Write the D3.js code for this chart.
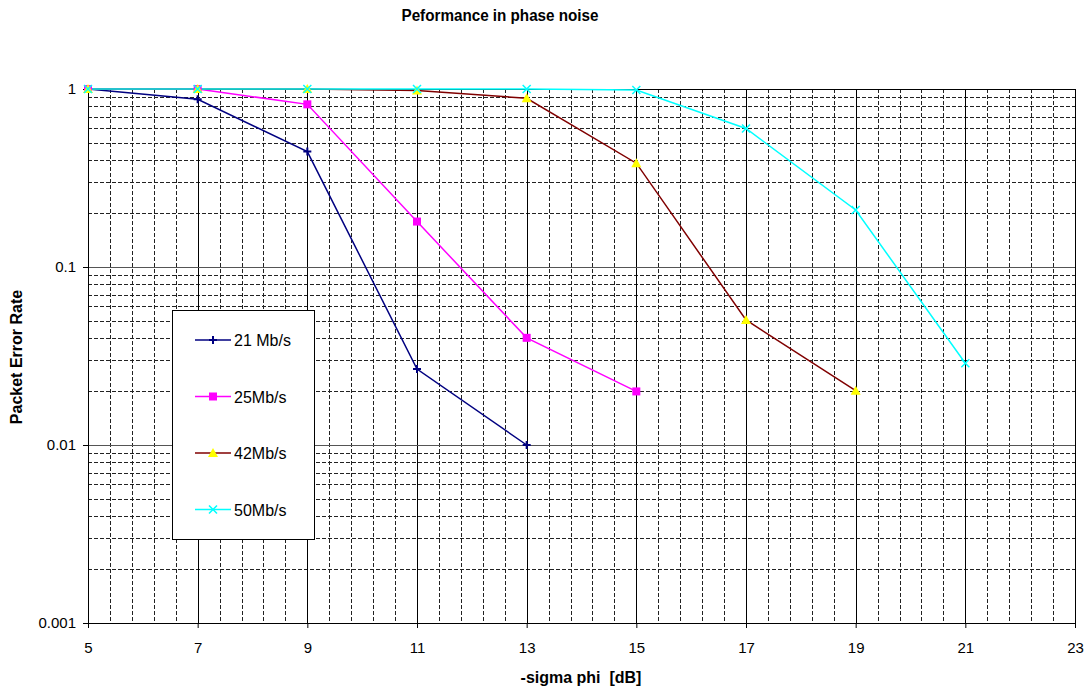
<!DOCTYPE html>
<html>
<head>
<meta charset="utf-8">
<script src="https://cdn.jsdelivr.net/npm/d3@7"></script>
<style>
  body { margin: 0; background: #fff; }
  text { font-family: "Liberation Sans", Arial, sans-serif; }
</style>
</head>
<body>
<div id="chart"></div>
<script>
// data
var xValues = [5, 7, 9, 11, 13, 15, 17, 19, 21];
var per21 = [1, 0.875, 0.445, 0.0267, 0.01];
var per25 = [1, 1, 0.82, 0.18, 0.04, 0.02];
var per42 = [1, 1, 1, 0.98, 0.887, 0.383, 0.0504, 0.0202];
var per50 = [1, 1, 1, 1, 1, 0.987, 0.60, 0.209, 0.0288];
var seriesNames = ["21 Mb/s", "25Mb/s", "42Mb/s", "50Mb/s"];
var xTicks = [5, 7, 9, 11, 13, 15, 17, 19, 21, 23];
var yTicks = [0.001, 0.01, 0.1, 1];
var yTickLabels = ["0.001", "0.01", "0.1", "1"];

var w = 1086, h = 692;
var plotLeft = 88, plotRight = 1075, plotTop = 89, plotBottom = 623;

var svg = d3.select("#chart").append("svg")
    .attr("width", w)
    .attr("height", h);

var x = d3.scaleLinear().domain([5, 23]).range([plotLeft, plotRight]);
var y = d3.scaleLog().domain([0.001, 1]).range([plotBottom, plotTop]);

// minor gridlines
var xMinor = [];
for (var v = 5; v < 23; v += 2) {
    for (var k = 1; k < 5; k++) xMinor.push(v + k * 0.4);
}
var yMinor = [];
[0.001, 0.01, 0.1].forEach(function (d) {
    for (var k = 2; k < 10; k++) yMinor.push(d * k);
});

var grid = svg.append("g").attr("shape-rendering", "crispEdges");

grid.selectAll(".vminor").data(xMinor).enter().append("line")
    .attr("x1", function (d) { return Math.round(x(d)) + 0.5; })
    .attr("x2", function (d) { return Math.round(x(d)) + 0.5; })
    .attr("y1", plotTop).attr("y2", plotBottom)
    .attr("stroke", "#222").attr("stroke-dasharray", "4,2");

grid.selectAll(".hminor").data(yMinor).enter().append("line")
    .attr("y1", function (d) { return Math.round(y(d)) + 0.5; })
    .attr("y2", function (d) { return Math.round(y(d)) + 0.5; })
    .attr("x1", plotLeft).attr("x2", plotRight)
    .attr("stroke", "#222").attr("stroke-dasharray", "4,2");

grid.selectAll(".vmajor").data(xTicks.slice(1, -1)).enter().append("line")
    .attr("x1", function (d) { return Math.round(x(d)) + 0.5; })
    .attr("x2", function (d) { return Math.round(x(d)) + 0.5; })
    .attr("y1", plotTop).attr("y2", plotBottom)
    .attr("stroke", "#000");

grid.selectAll(".hmajor").data([0.01, 0.1]).enter().append("line")
    .attr("y1", function (d) { return Math.round(y(d)) + 0.5; })
    .attr("y2", function (d) { return Math.round(y(d)) + 0.5; })
    .attr("x1", plotLeft).attr("x2", plotRight)
    .attr("stroke", "#555").attr("stroke-width", 1.5);

// plot frame
grid.append("rect")
    .attr("x", plotLeft + 0.5).attr("y", plotTop + 0.5)
    .attr("width", plotRight - plotLeft).attr("height", plotBottom - plotTop)
    .attr("fill", "none").attr("stroke", "#000");

// axes
var xAxis = d3.axisBottom(x).tickValues(xTicks).tickSize(5).tickPadding(14)
    .tickFormat(d3.format("d"));
var gx = svg.append("g").attr("transform", "translate(0," + plotBottom + ")").call(xAxis);
gx.select(".domain").remove();
gx.selectAll("text").attr("font-size", 15).attr("fill", "#000")
    .style("font-family", "'Liberation Sans', Arial, sans-serif");

var yAxis = d3.axisLeft(y).tickValues(yTicks).tickSize(5).tickPadding(7)
    .tickFormat(function (d, i) { return yTickLabels[i]; });
var gy = svg.append("g").attr("transform", "translate(" + plotLeft + ",0)").call(yAxis);
gy.select(".domain").remove();
gy.selectAll("text").attr("font-size", 15).attr("fill", "#000")
    .style("font-family", "'Liberation Sans', Arial, sans-serif");

// titles
svg.append("text").attr("x", 500).attr("y", 21)
    .attr("text-anchor", "middle").attr("font-size", 16).attr("font-weight", "bold")
    .attr("textLength", 197).attr("lengthAdjust", "spacingAndGlyphs")
    .text("Peformance in phase noise");

svg.append("text").attr("x", 581).attr("y", 683)
    .attr("text-anchor", "middle").attr("font-size", 16).attr("font-weight", "bold")
    .attr("xml:space", "preserve").style("white-space", "pre")
    .text("-sigma phi  [dB]");

svg.append("text")
    .attr("transform", "translate(22,357) rotate(-90)")
    .attr("text-anchor", "middle").attr("font-size", 16).attr("font-weight", "bold")
    .text("Packet Error Rate");

// series
var series = [
    { name: seriesNames[0], values: per21, line: "#000080", fill: "#000080", marker: "plus" },
    { name: seriesNames[1], values: per25, line: "#ff00ff", fill: "#ff00ff", marker: "square" },
    { name: seriesNames[2], values: per42, line: "#800000", fill: "#ffff00", marker: "triangle" },
    { name: seriesNames[3], values: per50, line: "#00ffff", fill: "#00ffff", marker: "cross" }
];

var line = d3.line()
    .x(function (d, i) { return x(xValues[i]); })
    .y(function (d) { return y(d); });

function drawMarker(g, type, cx, cy, s) {
    if (type === "square") {
        g.append("rect").attr("x", cx - 4).attr("y", cy - 4).attr("width", 8).attr("height", 8)
            .attr("fill", s.fill);
    } else if (type === "triangle") {
        g.append("path").attr("d", "M" + cx + "," + (cy - 5) + "L" + (cx + 5) + "," + (cy + 4) + "L" + (cx - 5) + "," + (cy + 4) + "Z")
            .attr("fill", s.fill);
    } else if (type === "plus") {
        g.append("path").attr("d", "M" + cx + "," + (cy - 4) + "V" + (cy + 4) + "M" + (cx - 4) + "," + cy + "H" + (cx + 4))
            .attr("stroke", s.fill).attr("stroke-width", 2);
    } else if (type === "cross") {
        g.append("path").attr("d", "M" + (cx - 4) + "," + (cy - 4) + "L" + (cx + 4) + "," + (cy + 4) + "M" + (cx + 4) + "," + (cy - 4) + "L" + (cx - 4) + "," + (cy + 4))
            .attr("stroke", s.fill).attr("stroke-width", 1.5);
    }
}

series.forEach(function (s) {
    svg.append("path").datum(s.values)
        .attr("d", line)
        .attr("fill", "none")
        .attr("stroke", s.line)
        .attr("stroke-width", 1.5);
});
series.forEach(function (s) {
    var g = svg.append("g");
    s.values.forEach(function (d, i) {
        drawMarker(g, s.marker, x(xValues[i]), y(d), s);
    });
});

// legend
var lg = svg.append("g");
lg.append("rect").attr("x", 172.5).attr("y", 310.5).attr("width", 142).attr("height", 229)
    .attr("fill", "#fff").attr("stroke", "#000");
series.forEach(function (s, i) {
    var ly = 340 + i * 56.5;
    lg.append("line").attr("x1", 195).attr("x2", 231).attr("y1", ly).attr("y2", ly)
        .attr("stroke", s.line).attr("stroke-width", 1.5);
    drawMarker(lg, s.marker, 213, ly, s);
    lg.append("text").attr("x", 234).attr("y", ly + 6).attr("font-size", 16).text(s.name);
});
</script>
</body>
</html>
